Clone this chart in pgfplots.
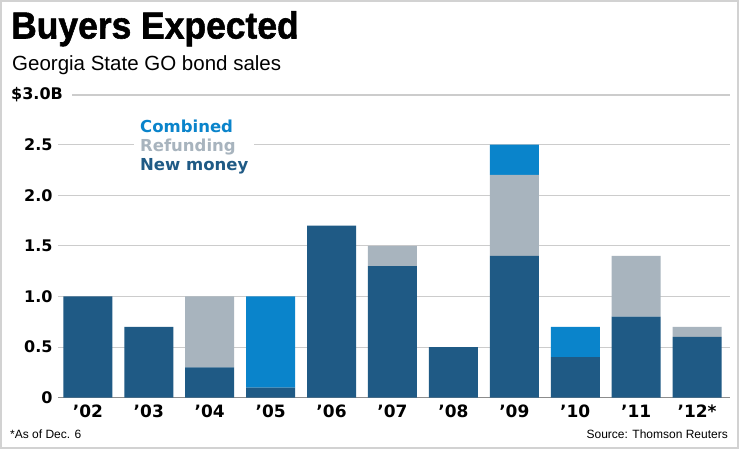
\documentclass[border=0pt]{standalone}
\usepackage{pgfplots}
\pgfplotsset{compat=1.18}
\usepackage{fontspec}
\setmainfont{Liberation Sans}
\newfontfamily\dv{DejaVu Sans}
\newfontfamily\tf{Liberation Sans}[BoldFeatures={FakeBold=1.5}]
\definecolor{newm}{HTML}{1F5A85}
\definecolor{refu}{HTML}{A8B4BE}
\definecolor{comb}{HTML}{0A84CB}
\definecolor{gridc}{HTML}{CCCCCC}
\definecolor{basec}{HTML}{8C8C8C}
\definecolor{framec}{HTML}{D2D2D2}
\begin{document}
\begin{tikzpicture}
\path[use as bounding box] (0bp,0bp) rectangle (740bp,449bp);
\fill[white] (0bp,0bp) rectangle (740bp,449bp);
\draw[framec, line width=1.5bp] (1bp,1bp) rectangle (738bp,448bp);
\node[anchor=base west, inner sep=0pt, xscale=0.94] at (11bp,410.5bp) {\fontsize{37.7bp}{40bp}\selectfont\tf\bfseries Buyers Expected};
\node[anchor=base west, inner sep=0pt] at (12bp,378bp) {\fontsize{20.5bp}{24bp}\selectfont Georgia State GO bond sales};
\node[anchor=base west, inner sep=0pt] at (11bp,349bp) {\fontsize{16bp}{18bp}\selectfont\dv\bfseries \$3.0B};
\draw[gridc, line width=1.1bp] (72bp,354bp) -- (730bp,354bp);
\begin{axis}[
  at={(58bp,51.3bp)}, anchor=south west, scale only axis,
  width=672bp, height=303.7bp,
  xmin=-0.49, xmax=10.54, ymin=0, ymax=3,
  ybar stacked, bar width=49bp,
  axis line style={draw=none}, tick style={draw=none},
  ymajorgrids, grid style={gridc, line width=1.1bp},
  xtick={0,1,2,3,4,5,6,7,8,9,10},
  xticklabels={’02,’03,’04,’05,’06,’07,’08,’09,’10,’11,’12*},
  ytick={0,0.5,1,1.5,2,2.5},
  yticklabels={0,0.5,1.0,1.5,2.0,2.5},
  yticklabel style={font={\dv\bfseries\fontsize{16bp}{18bp}\selectfont}, anchor=east, inner sep=0pt, xshift=-5.3bp},
  xticklabel style={font={\dv\bfseries\fontsize{17bp}{19bp}\selectfont}, anchor=base, inner sep=0pt, yshift=-19.8bp},
  reverse legend,
  legend image code/.code={},
  legend cell align=left,
  legend style={draw=none, fill=white, inner sep=0pt, at={(0.113,0.917)}, anchor=north west,
    font={\dv\bfseries\fontsize{16.5bp}{19bp}\selectfont},
    nodes={text height=12bp, text depth=4bp, inner ysep=1.5bp, inner xsep=6bp}},
]
\addplot[fill=newm, draw=none] coordinates {(0,1.0) (1,0.7) (2,0.3) (3,0.1) (4,1.7) (5,1.3) (6,0.5) (7,1.4) (8,0.4) (9,0.8) (10,0.6)};
\addlegendentry{\textcolor{newm}{New money}}
\addplot[fill=refu, draw=none] coordinates {(0,0) (1,0) (2,0.7) (3,0) (4,0) (5,0.2) (6,0) (7,0.8) (8,0) (9,0.6) (10,0.1)};
\addlegendentry{\textcolor{refu}{Refunding}}
\addplot[fill=comb, draw=none] coordinates {(0,0) (1,0) (2,0) (3,0.9) (4,0) (5,0) (6,0) (7,0.3) (8,0.3) (9,0) (10,0)};
\addlegendentry{\textcolor{comb}{Combined}}
\draw[basec, line width=1.2bp] (rel axis cs:0,0) -- (rel axis cs:1,0);
\end{axis}
\node[anchor=base west, inner sep=0pt] at (10bp,11bp) {\fontsize{12bp}{14bp}\selectfont *As of Dec. 6};
\node[anchor=base east, inner sep=0pt] at (728bp,11bp) {\fontsize{12bp}{14bp}\selectfont Source: Thomson Reuters};
\end{tikzpicture}
\end{document}
